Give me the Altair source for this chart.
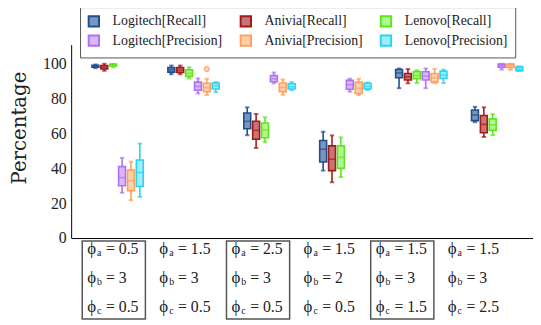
import altair as alt
import pandas as pd

series = ["Logitech[Recall]", "Anivia[Recall]", "Lenovo[Recall]",
          "Logitech[Precision]", "Anivia[Precision]", "Lenovo[Precision]"]
dark_colors = ["#1f4f8f", "#a31a1a", "#5ee61c", "#b070f5", "#ffa05c", "#28d4f5"]
light_colors = ["#7a96bf", "#c87575", "#b0f890", "#d8b8fa", "#ffd0b0", "#a0ecfb"]

phi_a = ["0.5", "1.5", "2.5", "1.5", "1.5", "1.5"]
phi_b = ["3", "3", "3", "2", "3", "3"]
phi_c = ["0.5", "0.5", "0.5", "0.5", "1.5", "2.5"]
boxed = [True, False, True, False, True, False]

# per group: [min, q1, median, q3, max]
logitech_recall = [[97.5, 98.0, 98.6, 99.2, 99.6], [94.0, 95.2, 96.5, 97.8, 99.0],
                   [59.0, 62.7, 67.0, 71.8, 75.0], [38.7, 43.6, 51.0, 56.0, 61.0],
                   [86.0, 92.0, 94.8, 96.7, 97.3], [66.5, 67.4, 70.6, 73.5, 75.3]]
anivia_recall = [[96.0, 97.0, 98.0, 99.0, 100.0], [94.0, 95.0, 96.3, 97.8, 99.0],
                 [51.7, 56.7, 61.8, 67.0, 71.2], [32.0, 38.7, 45.3, 52.9, 58.9],
                 [88.8, 90.7, 92.5, 94.4, 97.0], [58.0, 60.4, 65.2, 70.3, 75.0]]
lenovo_recall = [[98.0, 98.7, 99.2, 99.8, 100.0], [91.6, 92.8, 94.5, 96.5, 98.0],
                 [55.0, 57.6, 62.0, 66.0, 69.3], [35.0, 40.0, 46.3, 52.9, 57.8],
                 [89.0, 91.4, 93.3, 95.5, 96.3], [59.0, 61.8, 65.0, 68.4, 71.2]]
logitech_precision = [[26.0, 30.0, 34.7, 41.0, 46.0], [83.0, 84.8, 87.0, 89.5, 91.6],
                      [88.8, 89.7, 91.4, 93.2, 95.0], [84.0, 85.4, 88.0, 90.5, 91.4],
                      [86.0, 90.7, 93.0, 95.4, 97.3], [96.7, 98.0, 99.0, 99.8, 100.0]]
anivia_precision = [[21.7, 27.2, 33.0, 39.0, 43.8], [82.0, 84.0, 86.3, 88.8, 91.4],
                    [82.2, 84.0, 86.5, 89.0, 91.0], [82.0, 83.0, 86.0, 89.5, 91.4],
                    [88.8, 89.5, 92.0, 94.4, 97.0], [96.5, 97.8, 99.0, 99.8, 100.0]]
lenovo_precision = [[23.6, 29.6, 37.6, 44.8, 54.2], [83.8, 85.5, 87.5, 89.0, 89.5],
                    [84.8, 85.5, 86.8, 88.5, 89.5], [85.0, 85.5, 87.0, 88.8, 89.3],
                    [89.0, 91.6, 93.5, 95.8, 96.7], [95.8, 96.0, 97.0, 98.3, 98.6]]

outlier_group = [1]
outlier_series = ["Anivia[Precision]"]
outlier_value = [97.0]

y_ticks = [0, 20, 40, 60, 80, 100]

all_stats = [logitech_recall, anivia_recall, lenovo_recall,
             logitech_precision, anivia_precision, lenovo_precision]

STEP = 0.117
rows = []
for k, (s, stats) in enumerate(zip(series, all_stats)):
    for g, (lo, q1, med, q3, hi) in enumerate(stats):
        rows.append(dict(series=s, pos=g + (k - 2.5) * STEP, lo=lo, q1=q1,
                         med=med, q3=q3, hi=hi))
df = pd.DataFrame(rows)

out = pd.DataFrame(dict(
    series=outlier_series,
    pos=[g + (series.index(s) - 2.5) * STEP for g, s in zip(outlier_group, outlier_series)],
    val=outlier_value))

lab = pd.DataFrame(dict(
    lx=[g * 0.95 - 0.05 for g in range(6)],
    a=["= " + v for v in phi_a], b=["= " + v for v in phi_b], c=["= " + v for v in phi_c],
    boxed=boxed))

SER = "DejaVu Serif"
LIB = "Liberation Serif, Times New Roman, Tinos, serif"

xs = alt.Scale(domain=[-0.547, 5.407], nice=False, zero=False)
ys = alt.Scale(domain=[0, 111], nice=False)
xaxis = alt.Axis(labels=False, ticks=False, title=None, grid=False, domainColor="black")
yaxis = alt.Axis(values=y_ticks, grid=False, ticks=False, domainColor="black",
                 labelOverlap=False, labelFont=LIB, labelFontSize=16,
                 labelColor="#222", labelPadding=5,
                 title="Percentage", titleFont=SER, titleFontSize=20,
                 titleFontWeight="normal", titleColor="#222", titleX=-52, titleY=84,
                 titleAngle=270, titleBaseline="middle", titleAlign="center")
fscale = alt.Scale(domain=series, range=light_colors)
sscale = alt.Scale(domain=series, range=dark_colors)

legend = alt.Legend(title=None, orient="none", legendX=9, legendY=-38,
                    columns=3, direction="horizontal", labelFont=LIB,
                    labelFontSize=14, labelColor="#222", symbolType="square",
                    symbolSize=110, symbolStrokeWidth=2,
                    padding=7, strokeColor="#555", fillColor="white",
                    columnPadding=13, rowPadding=0, labelOffset=12)


def X(f):
    return alt.X(f, scale=xs, axis=xaxis)


def Y(f):
    return alt.Y(f, scale=ys, axis=yaxis, title="Percentage")


def F():
    return alt.Fill("series:N", scale=fscale, sort=series, legend=legend)


def S():
    return alt.Stroke("series:N", scale=sscale, sort=series, legend=legend)


base = alt.Chart(df)
whisk = base.mark_rule(strokeWidth=1.6).encode(
    x=X("pos:Q"), y=Y("lo:Q"), y2="hi:Q", stroke=S())

box = base.mark_bar(size=7, strokeWidth=1.6, fillOpacity=1).encode(
    x=X("pos:Q"), y=Y("q1:Q"), y2="q3:Q", fill=F(), stroke=S())

med = base.mark_tick(orient="horizontal", size=6, thickness=0.3, filled=False,
                     strokeWidth=1.3).encode(
    x=X("pos:Q"), y=Y("med:Q"), stroke=S())

caps = base.transform_fold(["lo", "hi"], as_=["k", "v"]).mark_tick(
    orient="horizontal", size=3, thickness=0.5, filled=False, strokeWidth=1.5).encode(
    x=X("pos:Q"), y=Y("v:Q"), stroke=S())

outl = alt.Chart(out).mark_point(size=28, shape="circle", filled=False,
                                 strokeWidth=1, fillOpacity=1).encode(
    x=X("pos:Q"), y=Y("val:Q"), stroke=S(), fill=F())

labbase = alt.Chart(lab)
frames = labbase.transform_filter("datum.boxed").mark_bar(
    orient="vertical", size=64, filled=False, stroke="#555", strokeWidth=1.5).encode(
    x=X("lx:Q"), y=alt.value(199), y2=alt.value(278))

text_layers = []
for ypix, letter, field in [(207, "a", "a"), (237, "b", "b"), (266, "c", "c")]:
    text_layers.append(labbase.mark_text(align="left", baseline="middle", dx=-27,
                                         font=LIB, fontSize=17, color="#222").encode(
        x=X("lx:Q"), y=alt.value(ypix), text=alt.value("ϕ")))
    text_layers.append(labbase.mark_text(align="left", baseline="middle", dx=-17, dy=4,
                                         font=LIB, fontSize=10, color="#222").encode(
        x=X("lx:Q"), y=alt.value(ypix), text=alt.value(letter)))
    text_layers.append(labbase.mark_text(align="left", baseline="middle", dx=-8,
                                         font=LIB, fontSize=16, color="#222").encode(
        x=X("lx:Q"), y=alt.value(ypix), text=f"{field}:N"))

chart = alt.layer(whisk, box, med, caps, outl, frames, *text_layers).properties(
    width=468, height=196,
    autosize=alt.AutoSizeParams(type="none"),
    padding={"left": 64, "top": 35, "right": 0, "bottom": 86},
).configure_view(stroke=None)

chart.save("out.html", embed_options={"renderer": "svg", "actions": False})
